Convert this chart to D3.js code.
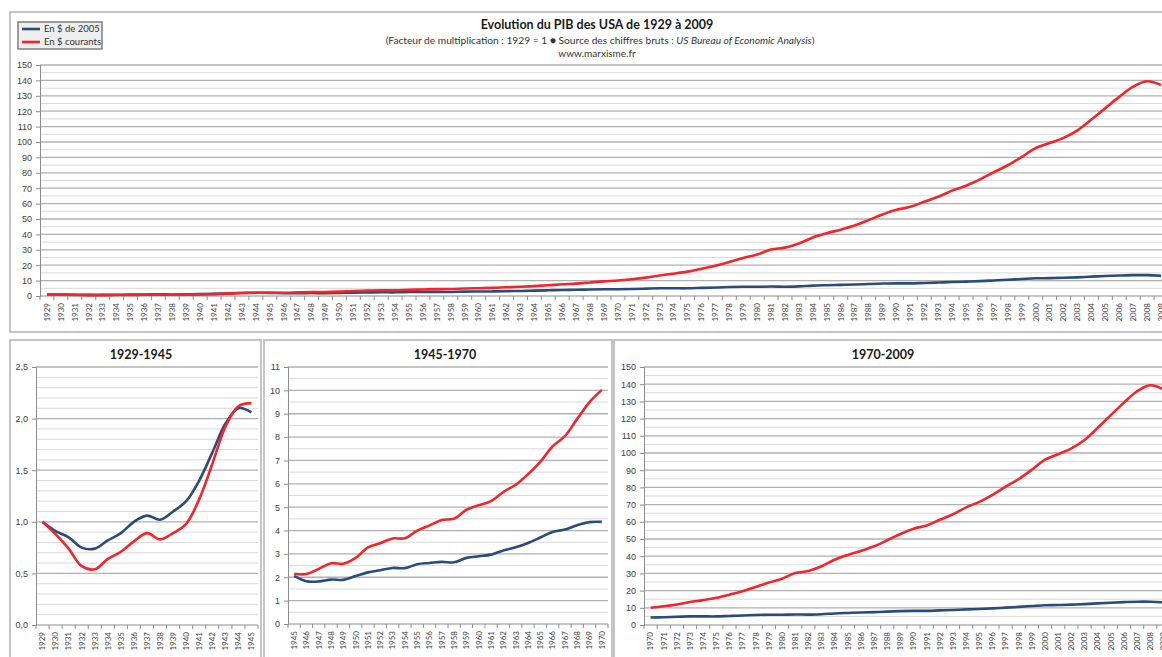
<!DOCTYPE html>
<html>
<head>
<meta charset="utf-8">
<script src="https://cdn.jsdelivr.net/npm/d3@7"></script>
<style>
  html, body { margin: 0; padding: 0; background: #fff; overflow: hidden; }
  svg { display: block; font-family: Lato, "Open Sans", sans-serif; }
</style>
</head>
<body>
<svg id="chart" width="1190" height="670"></svg>
<script>
// PIB USA, facteur de multiplication (1929 = 1)
var years = d3.range(1929, 2010);

// En $ de 2005 (PIB réel)
var realIdx = [
  1.00, 0.91, 0.85, 0.75, 0.74, 0.82, 0.89, 1.00, 1.06, 1.02,
  1.10, 1.20, 1.40, 1.67, 1.95, 2.10, 2.06, 1.83, 1.82, 1.90,
  1.89, 2.05, 2.21, 2.30, 2.40, 2.39, 2.56, 2.61, 2.66, 2.64,
  2.83, 2.90, 2.97, 3.15, 3.28, 3.47, 3.70, 3.94, 4.04, 4.23,
  4.36, 4.37, 4.52, 4.76, 5.03, 5.01, 4.99, 5.26, 5.50, 5.81,
  5.99, 5.98, 6.13, 6.01, 6.28, 6.73, 7.01, 7.25, 7.49, 7.79,
  8.07, 8.22, 8.20, 8.48, 8.72, 9.08, 9.31, 9.66, 10.09, 10.53,
  11.03, 11.49, 11.61, 11.83, 12.12, 12.55, 12.94, 13.28, 13.54, 13.54,
  13.18
];

// En $ courants (PIB nominal)
var nominalIdx = [
  1.00, 0.88, 0.74, 0.57, 0.54, 0.64, 0.71, 0.81, 0.89, 0.83,
  0.89, 0.98, 1.22, 1.56, 1.92, 2.12, 2.15, 2.14, 2.36, 2.60,
  2.58, 2.83, 3.28, 3.46, 3.66, 3.67, 4.00, 4.22, 4.45, 4.51,
  4.89, 5.08, 5.26, 5.65, 5.96, 6.41, 6.94, 7.60, 8.04, 8.78,
  9.50, 10.02, 10.88, 11.95, 13.35, 14.48, 15.81, 17.62, 19.60, 22.15,
  24.74, 26.93, 30.20, 31.42, 34.14, 37.97, 40.74, 43.08, 45.75, 49.26,
  52.94, 56.0, 57.9, 61.2, 64.4, 68.4, 71.6, 75.7, 80.4, 84.9,
  90.3, 96.1, 99.3, 102.7, 107.6, 114.6, 122.0, 129.3, 135.9, 139.4,
  137.0
];

var seriesNames = ["En $ de 2005", "En $ courants"];
var seriesColors = ["#2b4b78", "#f4242a"];

var svg = d3.select("#chart");

// cadres (style Excel)
function frame(x, y, w, h) {
  svg.append("rect")
    .attr("x", x).attr("y", y).attr("width", w).attr("height", h)
    .attr("fill", "#fff").attr("stroke", "#c4c4c4").attr("stroke-width", 2);
}
frame(10, 12, 1200, 320);
frame(10, 340, 251, 340);
frame(264, 340, 348, 340);
frame(614, 340, 600, 340);

function drawPanel(o) {
  var from = years.indexOf(o.start), to = years.indexOf(o.end);
  var yrs = years.slice(from, to + 1);
  var data = yrs.map(function(y, i) {
    return { year: y, real: realIdx[from + i], nominal: nominalIdx[from + i] };
  });

  var x = d3.scaleBand().domain(yrs).range([o.left, o.right]);
  var y = d3.scaleLinear().domain([0, o.max]).range([o.bottom, o.top]);
  var g = svg.append("g");

  // grille mineure puis majeure
  g.selectAll(".minor")
    .data(d3.range(o.minor, o.max + 1e-9, o.minor).filter(function(v) {
      return Math.abs(v / o.major - Math.round(v / o.major)) > 1e-6;
    }))
    .enter().append("line")
    .attr("x1", o.left).attr("x2", o.right)
    .attr("y1", function(d) { return y(d); }).attr("y2", function(d) { return y(d); })
    .attr("stroke", "#d9d9d9").attr("stroke-width", 1);

  var majors = d3.range(0, o.max + 1e-9, o.major);
  g.selectAll(".major")
    .data(majors.slice(1))
    .enter().append("line")
    .attr("x1", o.left).attr("x2", o.right)
    .attr("y1", function(d) { return y(d); }).attr("y2", function(d) { return y(d); })
    .attr("stroke", "#b0b0b0").attr("stroke-width", 1.3);

  // axe Y
  var yAxis = d3.axisLeft(y).tickValues(majors).tickSize(4).tickPadding(4)
    .tickFormat(o.fmt);
  var ya = g.append("g").attr("transform", "translate(" + o.left + ",0)").call(yAxis);
  ya.select(".domain").attr("stroke", "#8c8c8c");
  ya.selectAll(".tick line").attr("stroke", "#8c8c8c");
  ya.selectAll("text").attr("fill", "#404040").style("font-size", "9px");

  // axe X (graduations entre les catégories)
  g.append("line")
    .attr("x1", o.left).attr("x2", o.right)
    .attr("y1", o.bottom).attr("y2", o.bottom)
    .attr("stroke", "#8c8c8c");
  g.selectAll(".xt")
    .data(yrs.concat([null]))
    .enter().append("line")
    .attr("x1", function(d, i) { return o.left + i * x.bandwidth(); })
    .attr("x2", function(d, i) { return o.left + i * x.bandwidth(); })
    .attr("y1", o.bottom).attr("y2", o.bottom + 4)
    .attr("stroke", "#8c8c8c");
  g.selectAll(".xl")
    .data(yrs)
    .enter().append("text")
    .attr("transform", function(d) {
      return "translate(" + (x(d) + x.bandwidth() / 2) + "," + (o.bottom + 7) + ") rotate(-90)";
    })
    .attr("text-anchor", "end").attr("dy", "0.35em")
    .attr("fill", "#404040").style("font-size", "8px")
    .text(function(d) { return d; });

  // courbes lissées
  ["real", "nominal"].forEach(function(key, k) {
    var line = d3.line()
      .x(function(d) { return x(d.year) + x.bandwidth() / 2; })
      .y(function(d) { return y(d[key]); })
      .curve(d3.curveCatmullRom.alpha(0.5));
    g.append("path")
      .datum(data)
      .attr("d", line)
      .attr("fill", "none")
      .attr("stroke", seriesColors[k])
      .attr("stroke-width", 2.6)
      .attr("stroke-linejoin", "round");
  });

  if (o.title) {
    svg.append("text")
      .attr("x", o.titleX).attr("y", 359)
      .attr("text-anchor", "middle")
      .style("font-size", "12.5px").style("font-weight", "bold")
      .attr("fill", "#1a1a1a")
      .text(o.title);
  }
}

var intFmt = d3.format("d");
var commaFmt = function(d) { return d3.format(".1f")(d).replace(".", ","); };

drawPanel({ start: 1929, end: 2009, left: 40, right: 1168, top: 65, bottom: 296,
  max: 150, major: 10, minor: 5, fmt: intFmt });
drawPanel({ start: 1929, end: 1945, left: 36, right: 258, top: 367, bottom: 625,
  max: 2.5, major: 0.5, minor: 0.1, fmt: commaFmt, title: "1929-1945", titleX: 141 });
drawPanel({ start: 1945, end: 1970, left: 288, right: 608, top: 367, bottom: 624,
  max: 11, major: 1, minor: 0.5, fmt: intFmt, title: "1945-1970", titleX: 445 });
drawPanel({ start: 1970, end: 2009, left: 644, right: 1170, top: 367, bottom: 625,
  max: 150, major: 10, minor: 5, fmt: intFmt, title: "1970-2009", titleX: 883 });

// titre
svg.append("text")
  .attr("x", 597).attr("y", 29)
  .attr("text-anchor", "middle")
  .style("font-size", "12.5px").style("font-weight", "bold").attr("fill", "#1a1a1a")
  .text("Evolution du PIB des USA de 1929 à 2009");

var sub = svg.append("text")
  .attr("x", 600).attr("y", 44)
  .attr("text-anchor", "middle")
  .style("font-size", "10.2px").attr("fill", "#333");
sub.append("tspan").text("(Facteur de multiplication : 1929 = 1 \u25CF Source des chiffres bruts : ");
sub.append("tspan").style("font-style", "italic").text("US Bureau of Economic Analysis");
sub.append("tspan").text(")");

svg.append("text")
  .attr("x", 597).attr("y", 57)
  .attr("text-anchor", "middle")
  .style("font-size", "10px").attr("fill", "#333")
  .text("www.marxisme.fr");

// légende
var leg = svg.append("g").attr("transform", "translate(18,22)");
leg.append("rect")
  .attr("width", 84).attr("height", 27)
  .attr("fill", "#efefef").attr("stroke", "#7f7f7f").attr("stroke-width", 1.5);
seriesNames.forEach(function(name, i) {
  var yy = 7 + i * 13;
  leg.append("line")
    .attr("x1", 4).attr("x2", 22).attr("y1", yy).attr("y2", yy)
    .attr("stroke", seriesColors[i]).attr("stroke-width", 2.6);
  leg.append("text")
    .attr("x", 26).attr("y", yy).attr("dy", "0.35em")
    .style("font-size", "9.5px").attr("fill", "#333")
    .text(name);
});
</script>
</body>
</html>
